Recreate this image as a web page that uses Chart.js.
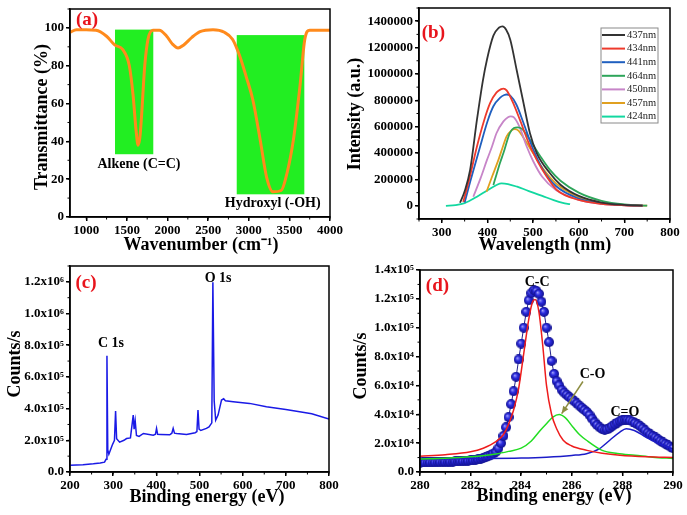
<!DOCTYPE html>
<html>
<head>
<meta charset="utf-8">
<script src="https://cdn.jsdelivr.net/npm/chart.js@4.4.0/dist/chart.umd.min.js"></script>
<style>
  html, body { margin: 0; padding: 0; background: #fff; }
  #wrap { position: relative; width: 687px; height: 515px; }
  canvas { position: absolute; }
</style>
</head>
<body>
<div id="wrap">
  <canvas id="chartA" width="343" height="257" style="left:0;top:0"></canvas>
  <canvas id="chartB" width="344" height="257" style="left:343px;top:0"></canvas>
  <canvas id="chartC" width="343" height="258" style="left:0;top:257px"></canvas>
  <canvas id="chartD" width="344" height="258" style="left:343px;top:257px"></canvas>
</div>
<script>
// ---- (a) FTIR ----
const aWave = [800, 880, 1000, 1120, 1250, 1350, 1450, 1530, 1575, 1615, 1638, 1660, 1680, 1720, 1760, 1820, 1900, 1990, 2060, 2130,
               2200, 2300, 2400, 2560, 2700, 2800, 2890, 2970, 3050, 3140, 3220, 3300, 3400, 3470, 3550, 3630, 3690, 3750, 3850, 4000];
const aTrans = [97.7, 99, 99, 98.8, 95.6, 91, 88.5, 80, 65, 45, 38, 42, 53, 80, 94, 98.8, 98.8, 95.6, 91.5, 89.4,
                91, 95, 98, 99, 97.7, 94, 85, 74, 62, 41, 21, 13.3, 14, 23, 41, 69, 94, 98.8, 98.8, 98.8];
const aXTicks = [1000, 1500, 2000, 2500, 3000, 3500, 4000];
const aYTicks = [0, 20, 40, 60, 80, 100];
const aBands = ['Alkene (C=C)', 'Hydroxyl (-OH)'];
const aBandFrom = [1354, 2852];
const aBandTo = [1825, 3684];
const aBandTop = [99.1, 96.2];
const aBandBottom = [33.2, 12.0];

// ---- (b) PL spectra ----
const bNames = ['437nm', '434nm', '441nm', '464nm', '450nm', '457nm', '424nm'];
const b437x = [340, 350, 362, 377, 390, 399, 413, 425, 433, 441, 450, 464, 479, 493, 508, 537, 560, 600, 650, 700, 740];
const b437y = [23000, 110000, 272000, 653000, 950000, 1110000, 1290000, 1350000, 1360000, 1335000, 1260000, 1030000, 780000, 552000, 400000, 247000, 160000, 75000, 25000, 7000, 2000];
const b434x = [347, 360, 377, 392, 406, 420, 430, 435, 442, 455, 471, 490, 508, 530, 552, 600, 650, 700, 740];
const b434y = [30000, 200000, 450000, 640000, 780000, 860000, 885000, 889000, 875000, 790000, 653000, 480000, 348000, 220000, 120000, 45000, 15000, 4000, 1000];
const b441x = [350, 362, 384, 400, 413, 428, 437, 442, 450, 463, 479, 500, 522, 550, 600, 650, 700, 740];
const b441y = [25000, 180000, 450000, 640000, 755000, 820000, 840000, 844000, 835000, 770000, 628000, 430000, 272000, 150000, 55000, 18000, 5000, 1000];
const b464x = [413, 420, 428, 435, 449, 458, 466, 475, 493, 515, 537, 560, 600, 650, 700, 750];
const b464y = [158000, 240000, 330000, 400000, 552000, 590000, 595000, 585000, 500000, 380000, 272000, 190000, 100000, 38000, 10000, 1500];
const b450x = [369, 385, 399, 410, 420, 435, 445, 451, 458, 470, 486, 500, 520, 550, 600, 650, 700, 740];
const b450y = [69000, 210000, 348000, 450000, 552000, 640000, 672000, 678000, 670000, 600000, 450000, 340000, 220000, 120000, 45000, 15000, 4000, 1000];
const b457x = [398, 410, 424, 433, 442, 452, 460, 468, 480, 500, 520, 550, 600, 650, 700, 750];
const b457y = [107000, 220000, 348000, 440000, 526000, 570000, 582000, 570000, 510000, 400000, 290000, 170000, 65000, 20000, 5000, 1000];
const b424x = [309, 330, 350, 377, 400, 420, 431, 445, 465, 486, 500, 520, 545, 565, 581];
const b424y = [0, 5000, 20000, 69000, 118000, 158000, 170000, 165000, 145000, 118000, 100000, 75000, 43000, 22000, 12000];
const bXTicks = [300, 400, 500, 600, 700, 800];
const bYTicks = [0, 200000, 400000, 600000, 800000, 1000000, 1200000, 1400000];

// ---- (c) XPS survey ----
const cBE = [200, 230, 254, 270, 280, 283.5, 285.6, 287.5, 290, 298, 303, 305.6, 308, 315, 325, 331, 340, 346.5, 348.5, 351,
             354, 360, 370, 393, 398, 400.5, 403, 410, 431, 436, 439, 442, 447, 470, 490, 494, 496.5, 499, 503, 516,
             522, 528.5, 531, 534, 537.5, 543, 551, 556, 560, 578, 616, 655, 700, 732, 760, 800];
const cCounts = [42000, 46000, 52000, 57000, 62000, 80000, 733000, 140000, 112000, 170000, 200000, 385000, 210000, 188000, 200000, 211000, 215000, 359000, 270000, 323000,
                 230000, 225000, 243000, 232000, 238000, 275000, 238000, 237000, 235000, 245000, 275000, 245000, 243000, 237000, 248000, 255000, 391000, 270000, 262000, 275000,
                 285000, 310000, 1198000, 450000, 327000, 359000, 454000, 462000, 450000, 444000, 433000, 412000, 395000, 380000, 368000, 335000];
const cXTicks = [200, 300, 400, 500, 600, 700, 800];
const cYTicks = [0, 200000, 400000, 600000, 800000, 1000000, 1200000];
const cYLabels = ['0.0', '2.0x10⁵', '4.0x10⁵', '6.0x10⁵', '8.0x10⁵', '1.0x10⁶', '1.2x10⁶'];

// ---- (d) C 1s high resolution ----
const dBE = [280.0, 280.1, 280.2, 280.3, 280.4, 280.5, 280.6, 280.7, 280.8, 280.9,
             281.0, 281.1, 281.2, 281.3, 281.4, 281.5, 281.6, 281.7, 281.8, 281.9,
             282.0, 282.1, 282.2, 282.3, 282.4, 282.5, 282.6, 282.7, 282.8, 282.9,
             283.0, 283.1, 283.2, 283.3, 283.4, 283.5, 283.6, 283.7, 283.8, 283.9,
             284.0, 284.1, 284.2, 284.3, 284.4, 284.5, 284.6, 284.7, 284.8, 284.9,
             285.0, 285.1, 285.2, 285.3, 285.4, 285.5, 285.6, 285.7, 285.8, 285.9,
             286.0, 286.1, 286.2, 286.3, 286.4, 286.5, 286.6, 286.7, 286.8, 286.9,
             287.0, 287.1, 287.2, 287.3, 287.4, 287.5, 287.6, 287.7, 287.8, 287.9,
             288.0, 288.1, 288.2, 288.3, 288.4, 288.5, 288.6, 288.7, 288.8, 288.9,
             289.0, 289.1, 289.2, 289.3, 289.4, 289.5, 289.6, 289.7, 289.8, 289.9, 290.0];
const dCounts = [6500, 6600, 6600, 6700, 6700, 6800, 6800, 6900, 6900, 7000,
                 7000, 7100, 7100, 7200, 7300, 7400, 7500, 7600, 7700, 7800,
                 8000, 8200, 8500, 8800, 9200, 9700, 10300, 11000, 11800, 12800,
                 14000, 16500, 20000, 25000, 31000, 38000, 47000, 56000, 66000, 78000,
                 89000, 100000, 111000, 119000, 124000, 126000, 125500, 123500, 118000, 111000,
                 100000, 90000, 77000, 68000, 63000, 60000, 57000, 55000, 53500, 52000,
                 50500, 49000, 47500, 46000, 44500, 43000, 41500, 39500, 37000, 34500,
                 32500, 31000, 29800, 29200, 29500, 30500, 31800, 33000, 34200, 35200,
                 35800, 36200, 36200, 35800, 35000, 34000, 33000, 31800, 30300, 28800,
                 27300, 26000, 25000, 24000, 22800, 21600, 20500, 19500, 18500, 17500, 16500];
const dCCx = [280, 281, 282, 282.5, 283, 283.3, 283.5, 283.7, 283.9, 284.1, 284.3, 284.45, 284.55, 284.7, 284.85, 285.0, 285.2, 285.4, 285.66, 286, 286.6, 287.2, 287.9, 289, 290];
const dCCy = [11000, 12000, 14000, 16500, 21000, 26000, 33000, 43000, 58000, 82000, 106000, 118000, 119500, 111000, 88000, 60000, 40000, 30000, 22000, 18000, 15000, 13000, 11600, 10500, 10000];
const dCOx = [280, 281, 282, 283, 283.5, 284, 284.4, 284.75, 285.0, 285.25, 285.5, 285.75, 286.05, 286.3, 286.58, 287.2, 287.8, 288.5, 289.2, 290];
const dCOy = [9000, 9500, 10500, 12500, 14300, 16500, 21500, 28800, 33500, 38000, 39800, 37500, 31000, 26000, 22000, 15000, 12800, 11600, 10300, 9300];
const dC2Ox = [280, 282, 284, 285, 286, 286.58, 287.1, 287.5, 287.9, 288.15, 288.47, 288.93, 289.45, 290];
const dC2Oy = [9000, 9300, 9700, 10300, 11500, 12700, 16200, 22000, 27700, 30000, 28800, 24200, 19600, 16000];
const dXTicks = [280, 282, 284, 286, 288, 290];
const dYTicks = [0, 20000, 40000, 60000, 80000, 100000, 120000, 140000];
const dYLabels = ['0.0', '2.0x10⁴', '4.0x10⁴', '6.0x10⁴', '8.0x10⁴', '1.0x10⁵', '1.2x10⁵', '1.4x10⁵'];

// ---- shared styling ----
const SERIF = "'Liberation Serif', 'Times New Roman', serif";
const RED = '#e8141c';
const PANEL_FONT = `bold 19px ${SERIF}`;
const NOTE_FONT = `bold 14px ${SERIF}`;
const TITLE_FONT = `bold 18px ${SERIF}`;

const toXY = (xs, ys) => xs.map((x, i) => ({ x, y: ys[i] }));

// shaded ball used as the marker in (d)
function ball(r) {
  const c = document.createElement('canvas');
  c.width = c.height = r * 2;
  const g = c.getContext('2d');
  const grad = g.createRadialGradient(r * 0.7, r * 0.7, 0, r, r, r);
  grad.addColorStop(0, '#a8a8ff');
  grad.addColorStop(0.45, '#2c2ce0');
  grad.addColorStop(1, '#10108c');
  g.fillStyle = grad;
  g.beginPath(); g.arc(r, r, r, 0, Math.PI * 2); g.fill();
  return c;
}

function axis(pos, min, max, ticks, size, labelFn) {
  return {
    type: 'linear', position: pos, min, max,
    afterBuildTicks: s => { s.ticks = ticks.map(v => ({ value: v })); },
    afterFit: s => {
      if (pos === 'left') { s.width = size; s.paddingTop = 0; s.paddingBottom = 0; }
      else { s.height = size; s.paddingLeft = 0; s.paddingRight = 0; }
    },
    grid: { drawOnChartArea: false, color: '#000', lineWidth: 1.5, tickLength: 4 },
    border: { color: '#000', width: 1.5 },
    ticks: {
      color: '#000', padding: 2, autoSkip: false, maxRotation: 0,
      font: { family: SERIF, size: 13, weight: 'bold' },
      callback: labelFn || (v => String(v))
    }
  };
}

function options(x, y, top, right, notes) {
  return {
    responsive: false, animation: false, events: [],
    layout: { padding: { top, right, left: 0, bottom: 0 } },
    scales: { x, y },
    plugins: { legend: { display: false }, tooltip: { enabled: false }, notes }
  };
}

// boxes, frame, minor ticks, texts, legend, arrow
const notes = {
  id: 'notes',
  beforeDatasetsDraw(chart, args, o) {
    if (!o.boxes) return;
    const { ctx, scales: { x, y } } = chart;
    ctx.save();
    ctx.fillStyle = o.boxColor;
    o.boxes.forEach(b => {
      const l = x.getPixelForValue(b.x0), r = x.getPixelForValue(b.x1);
      const t = y.getPixelForValue(b.y1), btm = y.getPixelForValue(b.y0);
      ctx.fillRect(l, t, r - l, btm - t);
    });
    ctx.restore();
  },
  afterDraw(chart, args, o) {
    const { ctx, chartArea: a, scales: { x, y } } = chart;
    const line = (x0, y0, x1, y1) => { ctx.beginPath(); ctx.moveTo(x0, y0); ctx.lineTo(x1, y1); ctx.stroke(); };
    ctx.save();
    ctx.strokeStyle = '#000';
    ctx.lineWidth = 1.5;
    ctx.strokeRect(a.left, a.top, a.right - a.left, a.bottom - a.top);

    ctx.lineWidth = 1;
    for (let v = Math.ceil(x.min / o.xMinor) * o.xMinor; v <= x.max + 1e-9; v += o.xMinor) {
      const px = x.getPixelForValue(v);
      line(px, a.bottom, px, a.bottom + 2.5);
    }
    for (let v = Math.ceil(y.min / o.yMinor) * o.yMinor; v <= y.max + 1e-9; v += o.yMinor) {
      const py = y.getPixelForValue(v);
      line(a.left - 2.5, py, a.left, py);
    }

    if (o.arrow) {
      const A = o.arrow;
      const x0 = x.getPixelForValue(A.x0), y0 = y.getPixelForValue(A.y0);
      const x1 = x.getPixelForValue(A.x1), y1 = y.getPixelForValue(A.y1);
      ctx.strokeStyle = A.color; ctx.fillStyle = A.color; ctx.lineWidth = 1.5;
      line(x0, y0, x1, y1);
      const ang = Math.atan2(y1 - y0, x1 - x0);
      ctx.beginPath();
      ctx.moveTo(x1, y1);
      ctx.lineTo(x1 - 8 * Math.cos(ang - 0.4), y1 - 8 * Math.sin(ang - 0.4));
      ctx.lineTo(x1 - 8 * Math.cos(ang + 0.4), y1 - 8 * Math.sin(ang + 0.4));
      ctx.closePath();
      ctx.fill();
    }

    ctx.textAlign = 'center';
    ctx.textBaseline = 'middle';
    (o.labels || []).forEach(t => {
      ctx.font = t.font || NOTE_FONT;
      ctx.fillStyle = t.color || '#000';
      ctx.fillText(t.text, x.getPixelForValue(t.x), y.getPixelForValue(t.y));
    });

    ctx.font = TITLE_FONT;
    ctx.fillStyle = '#000';
    (o.titles || []).forEach(t => {
      ctx.save();
      ctx.translate(t.x, t.y);
      if (t.rot) ctx.rotate(-Math.PI / 2);
      ctx.fillText(t.text, 0, 0);
      ctx.restore();
    });

    if (o.legend) {
      const L = o.legend;
      ctx.strokeStyle = '#8a8a8a'; ctx.lineWidth = 1;
      ctx.strokeRect(L.x, L.y, L.w, L.h);
      ctx.font = `10.5px ${SERIF}`;
      ctx.textAlign = 'left';
      L.names.forEach((n, i) => {
        const yy = L.y + L.first + i * L.gap;
        ctx.strokeStyle = L.colors[i]; ctx.lineWidth = 2;
        line(L.x + 1, yy, L.x + 24, yy);
        ctx.fillStyle = '#222';
        ctx.fillText(n, L.x + 26, yy);
      });
    }
    ctx.restore();
  }
};
Chart.register(notes);

const lineSet = (data, color, width, extra) => Object.assign({
  data, borderColor: color, borderWidth: width, pointRadius: 0, fill: false
}, extra || {});

// (a)
new Chart(document.getElementById('chartA'), {
  type: 'line',
  data: { datasets: [lineSet(toXY(aWave, aTrans), '#ff8a1c', 3, { cubicInterpolationMode: 'monotone' })] },
  options: options(
    axis('bottom', 800, 4000, aXTicks, 40),
    axis('left', 0, 110, aYTicks, 70),
    9, 13,
    {
      xMinor: 250, yMinor: 10,
      boxColor: '#22ee22',
      boxes: aBandFrom.map((x0, i) => ({ x0, x1: aBandTo[i], y0: aBandBottom[i], y1: aBandTop[i] })),
      labels: [
        { text: '(a)', x: 1009, y: 104, font: PANEL_FONT, color: RED },
        { text: aBands[0], x: 1649, y: 28 },
        { text: aBands[1], x: 3295, y: 7.4 }
      ],
      titles: [
        { text: 'Wavenumber (cm⁻¹)', x: 201, y: 245 },
        { text: 'Transmittance (%)', x: 42, y: 117, rot: true }
      ]
    })
});

// (b)
const bColors = ['#333333', '#ee3a2c', '#1f5fbf', '#2ea55a', '#c785c8', '#e0a020', '#12d8a0'];
const bSeries = [[b437x, b437y], [b434x, b434y], [b441x, b441y], [b464x, b464y], [b450x, b450y], [b457x, b457y], [b424x, b424y]];
new Chart(document.getElementById('chartB'), {
  type: 'line',
  data: {
    datasets: bSeries.map((s, i) => lineSet(toXY(s[0], s[1]), bColors[i], 1.8, { cubicInterpolationMode: 'monotone' }))
  },
  options: options(
    axis('bottom', 250, 800, bXTicks, 38),
    axis('left', -100000, 1500000, bYTicks, 76),
    8, 17,
    {
      xMinor: 50, yMinor: 100000,
      labels: [{ text: '(b)', x: 281.5, y: 1308000, font: PANEL_FONT, color: RED }],
      titles: [
        { text: 'Wavelength (nm)', x: 202, y: 245 },
        { text: 'Intensity (a.u.)', x: 12, y: 114, rot: true }
      ],
      legend: { x: 258, y: 28, w: 57, h: 95, first: 7, gap: 13.6, names: bNames, colors: bColors }
    })
});

// (c)
new Chart(document.getElementById('chartC'), {
  type: 'line',
  data: { datasets: [lineSet(toXY(cBE, cCounts), '#1a1ae6', 1.5)] },
  options: options(
    axis('bottom', 200, 800, cXTicks, 43),
    axis('left', 0, 1300000, cYTicks, 70, v => cYLabels[cYTicks.indexOf(v)]),
    9, 14,
    {
      xMinor: 50, yMinor: 100000,
      labels: [
        { text: '(c)', x: 237, y: 1193000, font: PANEL_FONT, color: RED },
        { text: 'C 1s', x: 295, y: 813000 },
        { text: 'O 1s', x: 543, y: 1224000 }
      ],
      titles: [
        { text: 'Binding energy (eV)', x: 207, y: 240 },
        { text: 'Counts/s', x: 15, y: 107, rot: true }
      ]
    })
});

// (d)
new Chart(document.getElementById('chartD'), {
  type: 'line',
  data: {
    datasets: [
      lineSet(toXY(dBE, dCounts), '#20208a', 1, { pointStyle: ball(5), pointRadius: 5, order: 2 }),
      lineSet(toXY(dCCx, dCCy), '#ee1c1c', 1.5, { cubicInterpolationMode: 'monotone', order: 1 }),
      lineSet(toXY(dCOx, dCOy), '#22dd22', 1.5, { cubicInterpolationMode: 'monotone', order: 1 }),
      lineSet(toXY(dC2Ox, dC2Oy), '#1c1cc8', 1.5, { cubicInterpolationMode: 'monotone', order: 1 })
    ]
  },
  options: options(
    axis('bottom', 280, 290, dXTicks, 43),
    axis('left', 0, 140000, dYTicks, 77, v => dYLabels[dYTicks.indexOf(v)]),
    13, 14,
    {
      xMinor: 1, yMinor: 10000,
      arrow: { x0: 286.44, y0: 62700, x1: 285.6, y1: 40500, color: '#8c8c40' },
      labels: [
        { text: '(d)', x: 280.69, y: 129100, font: PANEL_FONT, color: RED },
        { text: 'C-C', x: 284.63, y: 131600 },
        { text: 'C-O', x: 286.82, y: 67600 },
        { text: 'C=O', x: 288.1, y: 41300 }
      ],
      titles: [
        { text: 'Binding energy (eV)', x: 211, y: 239 },
        { text: 'Counts/s', x: 18, y: 109, rot: true }
      ]
    })
});
</script>
</body>
</html>
